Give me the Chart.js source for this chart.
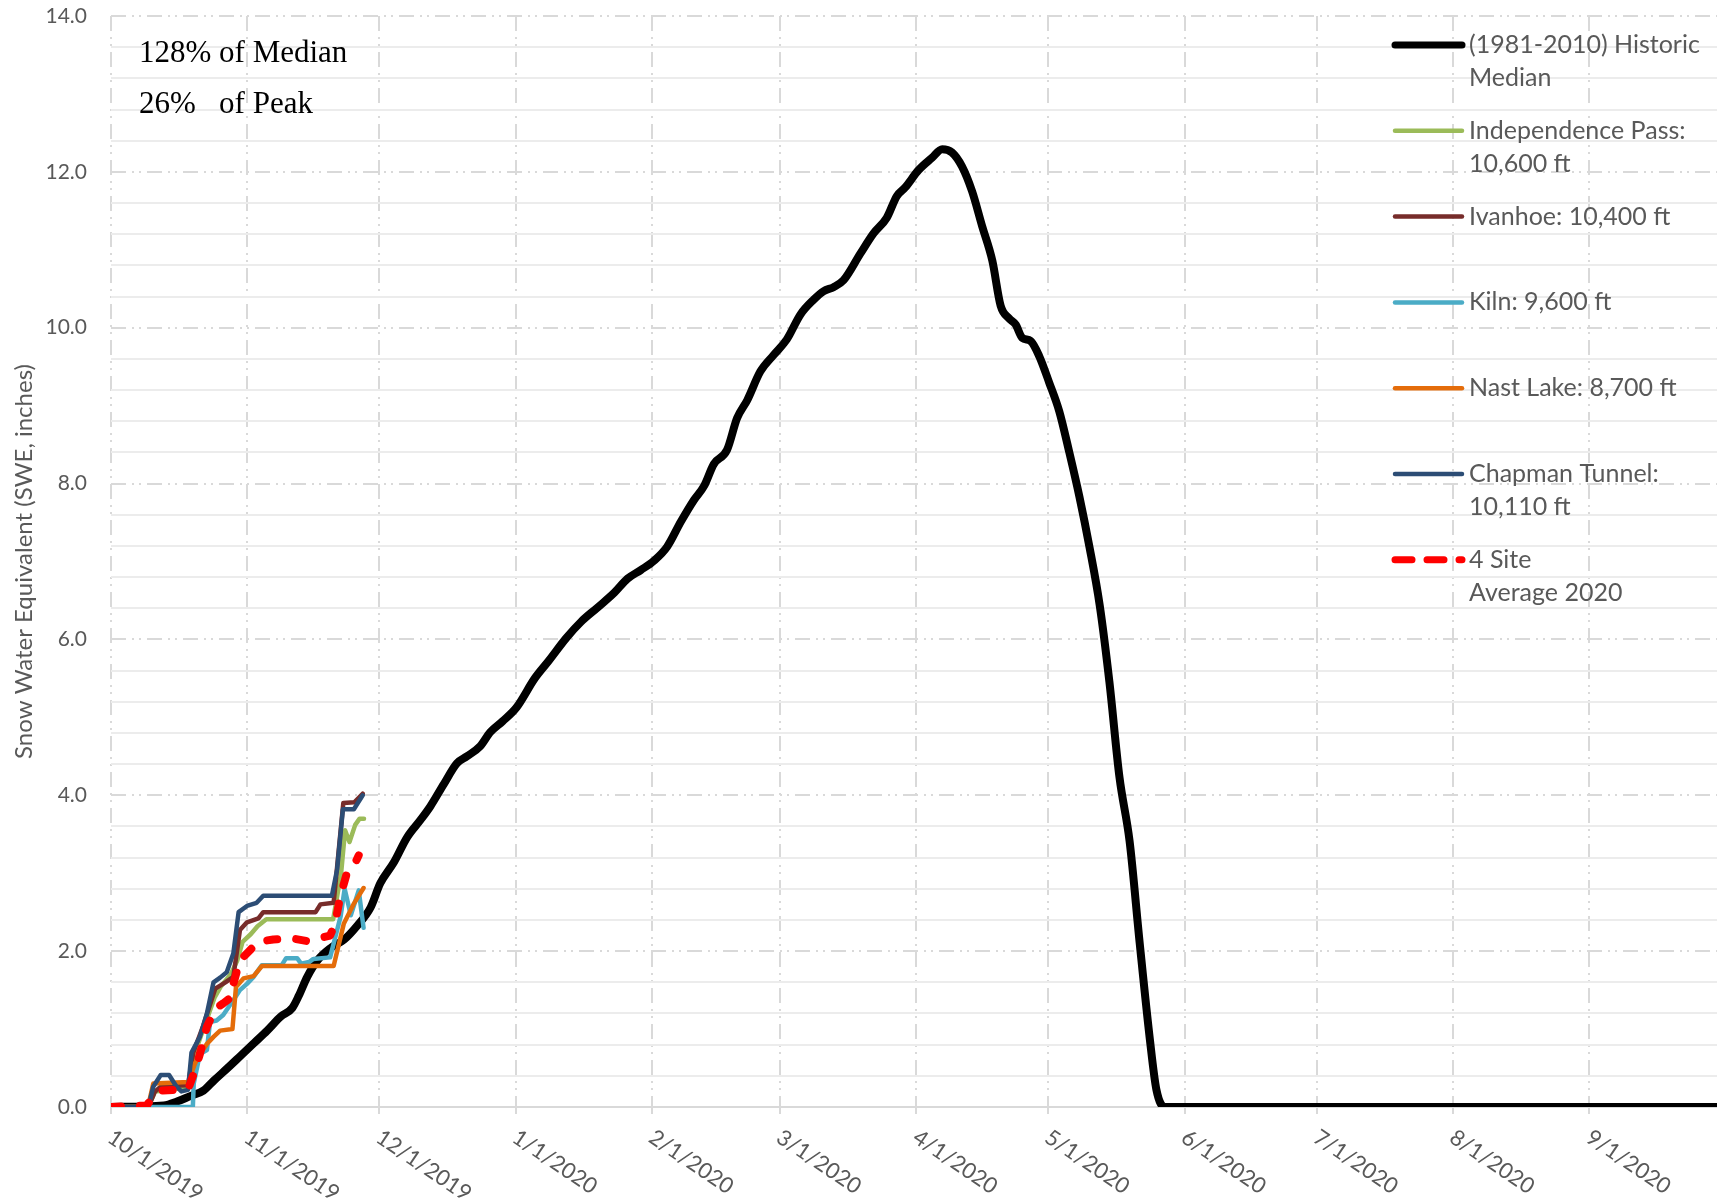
<!DOCTYPE html>
<html>
<head>
<meta charset="utf-8">
<title>Snow Water Equivalent</title>
<script src="https://cdn.jsdelivr.net/npm/chart.js@4.4.1/dist/chart.umd.min.js"></script>
<style>
  html, body { margin: 0; padding: 0; background: #fff; }
  #wrap { width: 1722px; height: 1201px; }
</style>
</head>
<body>
<div id="wrap"><canvas id="sweChart" width="1722" height="1201"></canvas></div>
<script>
// --- Axis ticks (x = days since 10/1/2019) ---
const monthDays = [0, 31, 61, 92, 123, 152, 183, 213, 244, 274, 305, 336];
const monthLabels = ["10/1/2019", "11/1/2019", "12/1/2019", "1/1/2020", "2/1/2020", "3/1/2020",
  "4/1/2020", "5/1/2020", "6/1/2020", "7/1/2020", "8/1/2020", "9/1/2020"];

// --- Historic median ---
const medianDays = [0, 12, 15, 18, 21, 23.4, 26.5, 29.5, 32.5, 35.5, 38.6, 41.2, 42.7, 44.6, 46.9, 49.9,
  53, 56, 59, 61.2, 64.3, 67.3, 70.3, 72.6, 75.6, 78.6, 80.9, 83.9, 86.2, 89, 92.2, 96.3, 99.4, 103.5,
  106.9, 110.6, 114.4, 117.4, 120.4, 123.4, 126.4, 129.5, 132.5, 134.8, 137, 140, 142.3, 144.6, 147.6,
  150.6, 153.6, 156.7, 159.7, 162, 164.2, 166.5, 170.3, 173.3, 176.3, 178.6, 180.5, 183.5, 186.6, 188.9,
  191.1, 193.4, 195.7, 198, 200.3, 202.2, 204.1, 205.6, 207.1, 209, 211, 213.2, 215.5, 217.8, 220.1,
  222.4, 224.7, 226.9, 229.2, 231.5, 233.8, 236.1, 237.6, 239.5, 365];
const medianSwe = [0, 0.02, 0.07, 0.14, 0.21, 0.34, 0.5, 0.66, 0.82, 0.98, 1.16, 1.27, 1.43, 1.67, 1.88, 2.04,
  2.15, 2.33, 2.56, 2.87, 3.14, 3.46, 3.68, 3.86, 4.14, 4.41, 4.5, 4.63, 4.81, 4.95, 5.13, 5.5, 5.72, 6.02,
  6.23, 6.41, 6.6, 6.78, 6.89, 7.01, 7.19, 7.51, 7.79, 7.97, 8.25, 8.43, 8.84, 9.07, 9.44,
  9.65, 9.85, 10.17, 10.36, 10.47, 10.52, 10.61, 10.95, 11.21, 11.41, 11.69, 11.8, 12.02, 12.18, 12.29,
  12.25, 12.07, 11.75, 11.3, 10.86, 10.28, 10.12, 10.04, 9.87, 9.83, 9.63, 9.3, 8.93, 8.4, 7.83,
  7.18, 6.44, 5.46, 4.23, 3.41, 2.1, 0.87, 0.22, 0, 0];

// --- 2020 sites ---
const indepDays = [0, 8.5, 10, 17.5, 18.8, 21, 23.5, 25, 27.2, 28.7, 29.9, 31.8, 33.3, 35.3, 50.5, 52.3, 53.2, 54.2, 55.5, 56.5, 57.5];
const indepSwe = [0, 0, 0.2, 0.25, 0.65, 1.0, 1.4, 1.55, 1.7, 1.88, 2.12, 2.22, 2.32, 2.41, 2.41, 3.0, 3.55, 3.4, 3.62, 3.7, 3.7];

const ivanhoeDays = [0, 8.5, 10, 11.5, 17.5, 18.7, 21, 23.7, 26, 27.8, 29.3, 30.9, 33.5, 34.6, 46.5, 47.6, 50.6, 52.8, 55.3, 57.2];
const ivanhoeSwe = [0, 0, 0.2, 0.27, 0.28, 0.7, 1.05, 1.52, 1.6, 1.67, 2.27, 2.37, 2.42, 2.5, 2.5, 2.6, 2.62, 3.9, 3.91, 4.02];

const kilnDays = [0, 18.6, 18.8, 20.2, 21.8, 22.5, 24, 25.5, 27.8, 29.3, 30.9, 32.4, 34.3, 38.8, 39.8, 42.3, 43.2, 45, 46, 49.8, 52.2, 53.1, 54.5, 56.3, 57.4];
const kilnSwe = [0, 0, 0.3, 0.68, 0.73, 1.09, 1.11, 1.18, 1.37, 1.5, 1.58, 1.67, 1.82, 1.82, 1.91, 1.91, 1.84, 1.86, 1.9, 1.92, 2.45, 2.8, 2.46, 2.78, 2.3];

const nastDays = [0, 8.4, 9.6, 17.6, 19.1, 20.2, 21.8, 23.3, 24.8, 27.6, 28.4, 30.1, 32.4, 34.3, 50.6, 52.9, 55.1, 57.4];
const nastSwe = [0, 0, 0.3, 0.32, 0.56, 0.68, 0.81, 0.9, 0.98, 1.0, 1.54, 1.65, 1.68, 1.81, 1.81, 2.35, 2.6, 2.81];

const chapmanDays = [0, 8.5, 9.6, 11.3, 13.2, 14.9, 16, 17.5, 18.3, 20.2, 21.8, 23.3, 24.8, 26.3, 27.8, 29, 30.9, 33.1, 34.6, 50.2, 51.4, 52.7, 55.2, 57.2];
const chapmanSwe = [0, 0, 0.26, 0.41, 0.41, 0.26, 0.2, 0.22, 0.7, 0.9, 1.2, 1.6, 1.66, 1.73, 1.97, 2.5, 2.58, 2.62, 2.71, 2.71, 3.05, 3.82, 3.82, 4.0];

const avgDays = [0, 8.1, 9.6, 11.5, 14.9, 17.6, 19.1, 20.2, 21.8, 23.7, 25.5, 27.4, 27.8, 29.3, 31.2, 33.5, 36.9, 41.5, 44.5, 47.5, 49.8, 50.9, 52.1, 53.6, 55.1, 56.3];
const avgSwe = [0, 0.02, 0.13, 0.21, 0.22, 0.24, 0.47, 0.68, 1.03, 1.26, 1.33, 1.41, 1.58, 1.88, 1.99, 2.12, 2.15, 2.16, 2.13, 2.17, 2.2, 2.35, 2.7, 3.0, 3.08, 3.23];

function pts(days, vals) {
  return days.map((d, i) => ({ x: d, y: vals[i] }));
}

const GRID = "#D9D9D9";
const MINOR = "#ECECEC";
const DASHDOT = [15, 6, 2, 5, 2, 6];

// --- Legend, rotated dates and notes ---
const extrasPlugin = {
  id: "extras",
  afterDraw(chart) {
    const ctx = chart.ctx;
    const xs = chart.scales.x;

    // rotated date labels
    ctx.save();
    ctx.font = "22px Lato";
    ctx.fillStyle = "#595959";
    ctx.textAlign = "left";
    ctx.textBaseline = "middle";
    monthDays.forEach((d, i) => {
      const px = xs.getPixelForValue(d);
      ctx.save();
      ctx.translate(px - 1, xs.top + 28);
      ctx.rotate(34 * Math.PI / 180);
      ctx.fillText(monthLabels[i], 0, 0);
      ctx.restore();
    });
    ctx.restore();

    // notes
    ctx.save();
    ctx.font = "31px 'Liberation Serif'";
    ctx.fillStyle = "#000";
    ctx.textBaseline = "middle";
    ctx.fillText("128% of Median", 139, 54);
    ctx.fillText("26%   of Peak", 139, 105);
    ctx.restore();

    // legend
    ctx.save();
    ctx.font = "25px Lato";
    ctx.textBaseline = "middle";
    chart.data.datasets.forEach((ds, i) => {
      const y = 45 + i * 85.8;
      ctx.beginPath();
      ctx.strokeStyle = ds.borderColor;
      ctx.lineWidth = Math.min(ds.borderWidth, 7);
      ctx.lineCap = "round";
      ctx.setLineDash(ds.legendDash || []);
      ctx.moveTo(1395, y);
      ctx.lineTo(1462, y);
      ctx.stroke();
      ctx.setLineDash([]);
      ctx.fillStyle = "#595959";
      ds.legendLines.forEach((t, j) => ctx.fillText(t, 1469, y + j * 33));
    });
    ctx.restore();
  }
};

new Chart(document.getElementById("sweChart"), {
  type: "line",
  data: {
    datasets: [
      { label: "(1981-2010) Historic Median", legendLines: ["(1981-2010) Historic", "Median"],
        data: pts(medianDays, medianSwe), borderColor: "#000000", borderWidth: 8,
        cubicInterpolationMode: "monotone", order: 6 },
      { label: "Independence Pass: 10,600 ft", legendLines: ["Independence Pass:", "10,600 ft"],
        data: pts(indepDays, indepSwe), borderColor: "#9BBB59", borderWidth: 4.5, order: 5 },
      { label: "Ivanhoe: 10,400 ft", legendLines: ["Ivanhoe: 10,400 ft"],
        data: pts(ivanhoeDays, ivanhoeSwe), borderColor: "#772C2A", borderWidth: 4.5, order: 4 },
      { label: "Kiln: 9,600 ft", legendLines: ["Kiln: 9,600 ft"],
        data: pts(kilnDays, kilnSwe), borderColor: "#4BACC6", borderWidth: 4.5, order: 3 },
      { label: "Nast Lake: 8,700 ft", legendLines: ["Nast Lake: 8,700 ft"],
        data: pts(nastDays, nastSwe), borderColor: "#E46C0A", borderWidth: 4.5, order: 2 },
      { label: "Chapman Tunnel: 10,110 ft", legendLines: ["Chapman Tunnel:", "10,110 ft"],
        data: pts(chapmanDays, chapmanSwe), borderColor: "#2C4D75", borderWidth: 4.5, order: 1 },
      { label: "4 Site Average 2020", legendLines: ["4 Site", "Average 2020"],
        data: pts(avgDays, avgSwe), borderColor: "#FF0000", borderWidth: 8,
        borderDash: [10, 19], legendDash: [17, 15], borderCapStyle: "round", order: 0 }
    ]
  },
  options: {
    responsive: false,
    animation: false,
    layout: { padding: { top: 16, right: 5, left: 0, bottom: 0 } },
    elements: {
      point: { radius: 0 },
      line: { tension: 0, borderJoinStyle: "round", borderCapStyle: "round", fill: false }
    },
    plugins: { legend: { display: false }, tooltip: { enabled: false } },
    scales: {
      x: {
        type: "linear",
        min: 0,
        max: 365,
        afterBuildTicks: scale => { scale.ticks = monthDays.map(v => ({ value: v })); },
        afterFit: scale => {
          scale.height = 94;
          scale.paddingLeft = 0;
          scale.paddingRight = 0;
        },
        ticks: { display: false },
        grid: { color: GRID, lineWidth: 2, drawTicks: true, tickLength: 7, tickColor: GRID, tickWidth: 2 },
        border: { display: false, dash: DASHDOT }
      },
      y: {
        min: 0,
        max: 14,
        afterFit: scale => {
          scale.width = 111;
          scale.paddingTop = 0;
          scale.paddingBottom = 0;
        },
        ticks: {
          stepSize: 2,
          padding: 24,
          color: "#595959",
          font: { family: "Lato", size: 21 },
          callback: v => v.toFixed(1)
        },
        grid: {
          drawTicks: false,
          lineWidth: 2,
          color: c => (c.tick && c.tick.value === 0 ? "rgba(0,0,0,0)" : GRID)
        },
        border: { display: false, dash: DASHDOT },
        title: {
          display: true,
          text: "Snow Water Equivalent (SWE, inches)",
          color: "#595959",
          font: { family: "Lato", size: 24 },
          padding: { top: 10, bottom: 0 }
        }
      },
      yMinor: {
        position: "right",
        min: 0,
        max: 14,
        afterFit: scale => {
          scale.width = 0;
          scale.paddingTop = 0;
          scale.paddingBottom = 0;
        },
        ticks: { display: false, stepSize: 0.4 },
        grid: {
          drawTicks: false,
          lineWidth: 2,
          color: c => {
            const v = c.tick ? c.tick.value : 1;
            if (Math.abs(v) < 1e-6) return GRID;
            if (Math.abs(v / 2 - Math.round(v / 2)) < 1e-6) return "rgba(0,0,0,0)";
            return MINOR;
          }
        },
        border: { display: false }
      }
    }
  },
  plugins: [extrasPlugin]
});
</script>
</body>
</html>
